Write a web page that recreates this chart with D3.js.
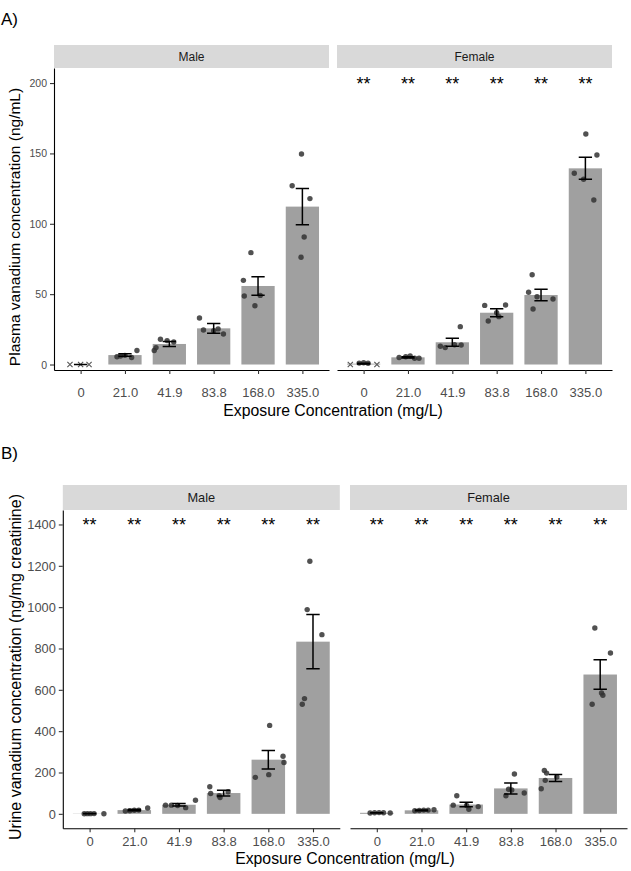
<!DOCTYPE html>
<html>
<head>
<meta charset="utf-8">
<script src="https://cdn.jsdelivr.net/npm/d3@7"></script>
<style>
  html, body { margin: 0; padding: 0; background: #fff; }
  svg { display: block; font-family: "Liberation Sans", Arial, Helvetica, sans-serif; }
</style>
</head>
<body>
<svg id="chart" width="631" height="871"></svg>
<script>
// ---------------- DATA ----------------
const categories = ["0", "21.0", "41.9", "83.8", "168.0", "335.0"];
const sexes = ["Male", "Female"];

// Panel A: plasma vanadium (ng/mL)
const plasmaTicks = [0, 50, 100, 150, 200];
const plasmaMaleMean = [0, 6.7, 14.6, 25.7, 55.8, 112.2];
const plasmaMaleSE = [0, 0.9, 1.8, 3.4, 6.6, 12.9];
const plasmaFemaleMean = [0.6, 5.1, 15.8, 36.8, 49.4, 139.4];
const plasmaFemaleSE = [0.3, 0.4, 2.8, 2.9, 4.1, 7.8];
const plasmaMalePoints = [
  [0, 0, 0],
  [5.5, 6, 6.5, 5, 10],
  [10, 12, 18, 17, 16],
  [33, 24.5, 24, 21.7, 25.3],
  [79.5, 59.8, 48.7, 49.1, 41.8],
  [149.6, 127, 117.9, 90.6, 76.2]
];
const plasmaMaleJitter = [
  [-0.24, 0, 0.19],
  [-0.18, -0.1, 0, 0.15, 0.27],
  [-0.34, -0.3, -0.2, -0.05, 0.1],
  [-0.32, -0.23, 0, 0.22, 0.1],
  [-0.16, -0.33, -0.31, 0.05, -0.07],
  [-0.02, -0.23, 0.17, 0.04, -0.03]
];
const plasmaMaleCensored = [
  [1, 1, 1], [0, 0, 0, 0, 0], [0, 0, 0, 0, 0], [0, 0, 0, 0, 0], [0, 0, 0, 0, 0], [0, 0, 0, 0, 0]
];
const plasmaFemalePoints = [
  [0, 1.0, 1.2, 0.9, 0],
  [5, 5.5, 6, 4.5, 4.5],
  [26.9, 13.9, 12, 13, 14],
  [42, 42.3, 36.8, 34, 30.9],
  [63.8, 51.3, 48.2, 46.5, 39.4],
  [163.8, 148.9, 135.9, 131.6, 116.9]
];
const plasmaFemaleJitter = [
  [-0.3, -0.1, 0, 0.1, 0.3],
  [-0.2, -0.05, 0.05, 0.15, 0.25],
  [0.18, 0.2, -0.16, -0.27, 0.05],
  [-0.27, 0.2, 0, 0.05, -0.19],
  [-0.2, -0.28, -0.09, 0.27, -0.18],
  [0.01, 0.26, -0.25, -0.04, 0.19]
];
const plasmaFemaleCensored = [
  [1, 0, 0, 0, 1], [0, 0, 0, 0, 0], [0, 0, 0, 0, 0], [0, 0, 0, 0, 0], [0, 0, 0, 0, 0], [0, 0, 0, 0, 0]
];
const plasmaMaleStars = [];
const plasmaFemaleStars = ["0", "21.0", "41.9", "83.8", "168.0", "335.0"];
const plasmaStarY = 200;

// Panel B: urine vanadium (ng/mg creatinine)
const urineTicks = [0, 200, 400, 600, 800, 1000, 1200, 1400];
const urineMaleMean = [1, 18, 44, 100.6, 262, 833];
const urineMaleSE = [0.3, 2.5, 6, 14, 45, 131];
const urineFemaleMean = [5, 17, 45, 123, 173.5, 674];
const urineFemaleSE = [0.8, 1.5, 11, 26.5, 17, 71];
const urineMalePoints = [
  [0.5, 1, 0.8, 1.2, 0.6],
  [14, 15, 17, 18, 28],
  [42, 42, 40, 30, 66],
  [131, 98.7, 79.3, 87.5, 106.5],
  [427.8, 278.6, 248, 189.6, 176.5],
  [1221.8, 988, 866.8, 557.6, 530]
];
const urineMaleJitter = [
  [-0.12, -0.05, 0.02, 0.1, 0.32],
  [-0.2, -0.1, 0, 0.1, 0.3],
  [-0.3, -0.17, -0.03, 0.15, 0.37],
  [-0.31, -0.29, -0.08, -0.1, 0.1],
  [0.03, 0.33, 0.35, 0.01, -0.29],
  [-0.07, -0.13, 0.2, -0.19, -0.24]
];
const urineFemalePoints = [
  [4, 5, 6, 5, 4],
  [15, 16, 18, 18, 20],
  [87.5, 42, 40, 35, 22],
  [193, 115, 100.6, 87.5, 119],
  [210, 197, 178, 162, 121],
  [899, 778, 585, 574, 530]
];
const urineFemaleJitter = [
  [-0.15, -0.05, 0.05, 0.15, 0.3],
  [-0.15, -0.05, 0.05, 0.15, 0.28],
  [-0.21, -0.29, 0.01, 0.27, 0.06],
  [0.08, 0.02, 0.3, -0.11, -0.05],
  [-0.25, -0.2, 0.03, -0.23, -0.32],
  [-0.12, 0.23, 0.03, 0.06, -0.18]
];
const urineMaleStars = ["0", "21.0", "41.9", "83.8", "168.0", "335.0"];
const urineFemaleStars = ["0", "21.0", "41.9", "83.8", "168.0", "335.0"];
const urineStarY = 1400;

// ---------------- DRAWING ----------------
const svg = d3.select("#chart");
const BAR = "#a0a0a0", STRIP = "#d9d9d9", PT = "#333333", TICKTXT = "#4d4d4d";

function drawFigure(cfg) {
  const y = d3.scaleLinear().domain(cfg.yDomain).range([cfg.bottom, cfg.top]);
  cfg.panels.forEach((p, pi) => {
    const g = svg.append("g");
    const x = d3.scalePoint().domain(categories).range([p.left, p.left + cfg.width]).padding(0.6);
    const step = x.step();
    const bw = step * 0.75;

    // strip
    g.append("rect").attr("x", p.left).attr("y", cfg.stripTop)
      .attr("width", cfg.width).attr("height", cfg.top - cfg.stripTop).attr("fill", STRIP);
    g.append("text").attr("x", p.left + cfg.width / 2).attr("y", (cfg.stripTop + cfg.top) / 2)
      .attr("dy", "0.35em").attr("text-anchor", "middle").attr("font-size", cfg.stripFont)
      .attr("fill", "#1a1a1a").text(p.name);

    // bars
    g.selectAll("rect.bar").data(categories).join("rect").attr("class", "bar")
      .attr("x", d => x(d) - bw / 2).attr("width", bw)
      .attr("y", (d, i) => Math.min(y(p.mean[i]), y(0)))
      .attr("height", (d, i) => Math.abs(y(0) - y(p.mean[i])))
      .attr("fill", BAR);

    // points
    const pts = [];
    categories.forEach((c, i) => {
      p.points[i].forEach((v, j) => {
        pts.push({ c, v, j: p.jitter[i][j], cens: p.censored ? p.censored[i][j] : 0 });
      });
    });
    g.selectAll("circle.pt").data(pts.filter(d => !d.cens)).join("circle").attr("class", "pt")
      .attr("cx", d => x(d.c) + d.j * step).attr("cy", d => y(d.v)).attr("r", 2.7)
      .attr("fill", PT).attr("fill-opacity", 0.85);
    g.selectAll("path.cx").data(pts.filter(d => d.cens)).join("path").attr("class", "cx")
      .attr("d", d => {
        const cx = x(d.c) + d.j * step, cy = y(d.v), s = 2.6;
        return `M${cx - s},${cy - s}L${cx + s},${cy + s}M${cx - s},${cy + s}L${cx + s},${cy - s}`;
      })
      .attr("stroke", "#555").attr("stroke-width", 1.1).attr("fill", "none");

    // error bars
    const cap = step * 0.3;
    const eg = g.selectAll("g.err").data(categories).join("g").attr("class", "err")
      .attr("stroke", "#000").attr("stroke-width", 1.5).attr("fill", "none");
    eg.append("path").attr("d", (c, i) => {
      const cx = x(c), y1 = y(p.mean[i] + p.se[i]), y2 = y(p.mean[i] - p.se[i]);
      return `M${cx - cap / 2},${y1}H${cx + cap / 2}M${cx},${y1}V${y2}M${cx - cap / 2},${y2}H${cx + cap / 2}`;
    });

    // significance stars
    g.selectAll("text.star").data(p.stars).join("text").attr("class", "star")
      .attr("x", d => x(d)).attr("y", y(cfg.starY)).attr("dy", "0.38em")
      .attr("text-anchor", "middle").attr("font-size", 18).attr("fill", "#000").text("**");

    // x axis
    const xa = g.append("g").attr("transform", `translate(0,${cfg.bottom})`)
      .call(d3.axisBottom(x).tickSize(4).tickSizeOuter(0));
    xa.select(".domain").attr("stroke", "#000").attr("stroke-width", 1.1);
    xa.selectAll(".tick line").attr("stroke", "#333").attr("stroke-width", 1.1);
    xa.selectAll(".tick text").attr("y", cfg.xLabelBase - cfg.bottom).attr("dy", null)
      .attr("font-size", 13).attr("fill", TICKTXT);
    xa.attr("font-family", null).attr("font-size", null);

    // y axis (left panel only)
    if (pi === 0) {
      const ya = g.append("g").attr("transform", `translate(${p.left},0)`)
        .call(d3.axisLeft(y).tickValues(cfg.ticks).tickFormat(d3.format("d"))
          .tickSize(4).tickSizeOuter(0).tickPadding(cfg.yTickPad));
      ya.select(".domain").attr("stroke", "#000").attr("stroke-width", 1.1);
      ya.selectAll(".tick line").attr("stroke", "#333").attr("stroke-width", 1.1);
      ya.selectAll(".tick text").attr("font-size", cfg.yTickFont).attr("fill", TICKTXT).attr("dy", "0.34em");
      ya.attr("font-family", null).attr("font-size", null);
    }
  });

  // axis titles
  const l = cfg.panels[0].left, r = cfg.panels[1].left + cfg.width;
  svg.append("text").attr("x", (l + r) / 2).attr("y", cfg.xTitleBase).attr("text-anchor", "middle")
    .attr("font-size", 15.8).attr("fill", "#000").text("Exposure Concentration (mg/L)");
  svg.append("text").attr("transform", `translate(${cfg.yTitleX},${cfg.yTitleY}) rotate(-90)`)
    .attr("text-anchor", "middle").attr("font-size", cfg.yTitleFont).attr("fill", "#000").text(cfg.yTitle);
  svg.append("text").attr("x", 1).attr("y", cfg.tagY).attr("font-size", 17).attr("fill", "#000").text(cfg.tag);
}

drawFigure({
  tag: "A)", tagY: 25,
  yDomain: [-3.9, 210.7], top: 68, bottom: 370, stripTop: 45, width: 275,
  stripFont: 12, ticks: plasmaTicks, yTickFont: 10.5, yTickPad: 3,
  starY: plasmaStarY, xLabelBase: 396.5, xTitleBase: 416,
  yTitle: "Plasma vanadium concentration (ng/mL)", yTitleX: 19.5, yTitleY: 227, yTitleFont: 15.5,
  panels: [
    { name: sexes[0], left: 54, mean: plasmaMaleMean, se: plasmaMaleSE, points: plasmaMalePoints,
      jitter: plasmaMaleJitter, censored: plasmaMaleCensored, stars: plasmaMaleStars },
    { name: sexes[1], left: 337, mean: plasmaFemaleMean, se: plasmaFemaleSE, points: plasmaFemalePoints,
      jitter: plasmaFemaleJitter, censored: plasmaFemaleCensored, stars: plasmaFemaleStars }
  ]
});

drawFigure({
  tag: "B)", tagY: 459,
  yDomain: [-70, 1470], top: 510, bottom: 828.3, stripTop: 485, width: 277,
  stripFont: 12.8, ticks: urineTicks, yTickFont: 12.8, yTickPad: 3,
  starY: urineStarY, xLabelBase: 846.5, xTitleBase: 863.5,
  yTitle: "Urine vanadium concentration (ng/mg creatinine)", yTitleX: 20.5, yTitleY: 667, yTitleFont: 16,
  panels: [
    { name: sexes[0], left: 62.8, mean: urineMaleMean, se: urineMaleSE, points: urineMalePoints,
      jitter: urineMaleJitter, stars: urineMaleStars },
    { name: sexes[1], left: 350, mean: urineFemaleMean, se: urineFemaleSE, points: urineFemalePoints,
      jitter: urineFemaleJitter, stars: urineFemaleStars }
  ]
});
</script>
</body>
</html>
